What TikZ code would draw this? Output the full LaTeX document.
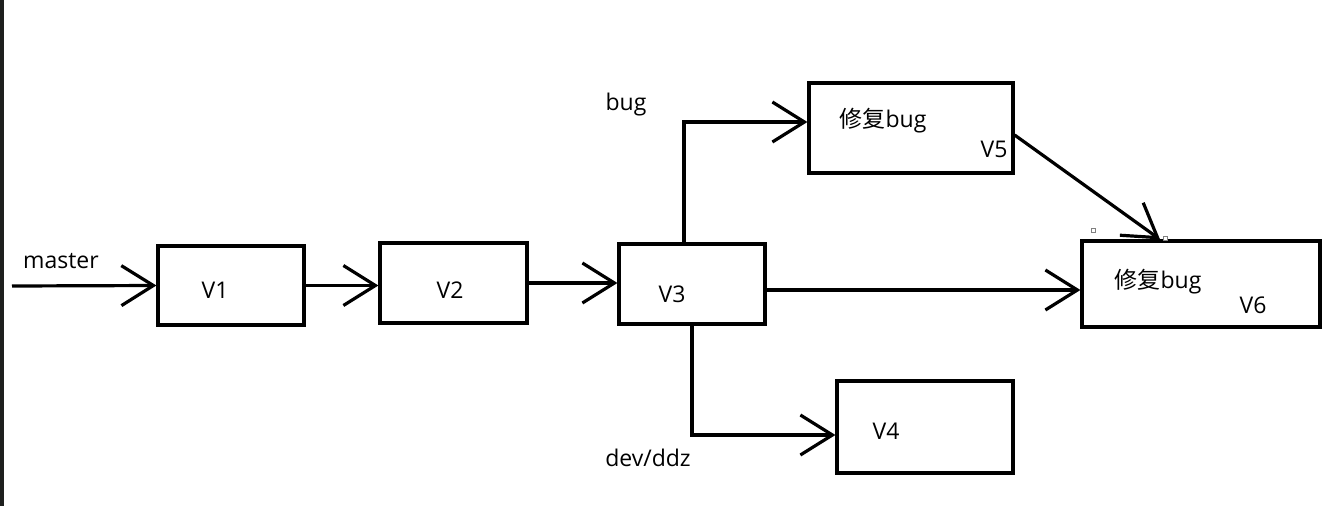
\documentclass[tikz,border=0pt]{standalone}
\usepackage{fontspec}
\setmainfont{Open Sans}
\newfontfamily\cjk{Noto Sans CJK SC}
\usetikzlibrary{arrows.meta}
\definecolor{edgegray}{RGB}{30,32,30}
\tikzset{box/.style={draw,line width=3.2pt,inner sep=0pt},
    link/.style={line width=3.2pt,-{Straight Barb[length=32pt,width=40pt]}},
    txt/.style={anchor=base,inner sep=0pt,font=\fontsize{23}{27}\selectfont}}
\begin{document}
\begin{tikzpicture}[x=1pt,y=-1pt]
        \useasboundingbox (0,0) rectangle (1340,506);
        \fill[edgegray] (0,0) rectangle (4,506);
        \node[box,minimum width=146pt,minimum height=79pt] (v1) at (231,285.5) {};
        \node[box,minimum width=147pt,minimum height=80pt] (v2) at (453.5,283) {};
        \node[box,minimum width=146pt,minimum height=80pt] (v3) at (692,284) {};
        \node[box,minimum width=204pt,minimum height=90pt] (v5) at (911,128) {};
        \node[box,minimum width=238pt,minimum height=86pt] (v6) at (1201,284) {};
        \node[box,minimum width=176pt,minimum height=92pt] (v4) at (925,427) {};
        \coordinate (start) at (12,286);
        \node[txt] (master) at (61,268) {master};
        \node[txt] (bug) at (626,110) {bug};
        \node[txt] (dev) at (648,466) {dev/ddz};
        \node[txt] (v1text) at (215,298) {V1};
        \node[txt] (v2text) at (450,298) {V2};
        \node[txt] (v3text) at (672,302) {V3};
        \node[txt] (v4text) at (886,439) {V4};
        \node[txt] (v5fix) at (883,127) {{\cjk 修复}bug};
        \node[txt] (v5text) at (994,157) {V5};
        \node[txt] (v6fix) at (1158,288) {{\cjk 修复}bug};
        \node[txt] (v6text) at (1253,313) {V6};
        \draw[link] (start) -- (v1.west);
        \draw[link] (v1.east) -- (v1.east -| v2.west);
        \draw[link] (v2.east) -- (v2.east -| v3.west);
        \draw[link] ([yshift=-6pt]v3.east) -- ([yshift=-6pt]v3.east -| v6.west);
        \draw[link] ([xshift=-8pt]v3.north) |- ([yshift=6pt]v5.west);
        \draw[link] (v3.south) |- ([yshift=-8pt]v4.west);
        \draw[link] ([yshift=-7pt]v5.east) -- ([xshift=-41pt]v6.north);
        \draw[gray,line width=0.8pt,fill=white] (1091,228) rectangle (1095,232);
        \draw[gray,line width=0.8pt,fill=white] (1163,236) rectangle (1167,240);
    \end{tikzpicture}
\end{document}
